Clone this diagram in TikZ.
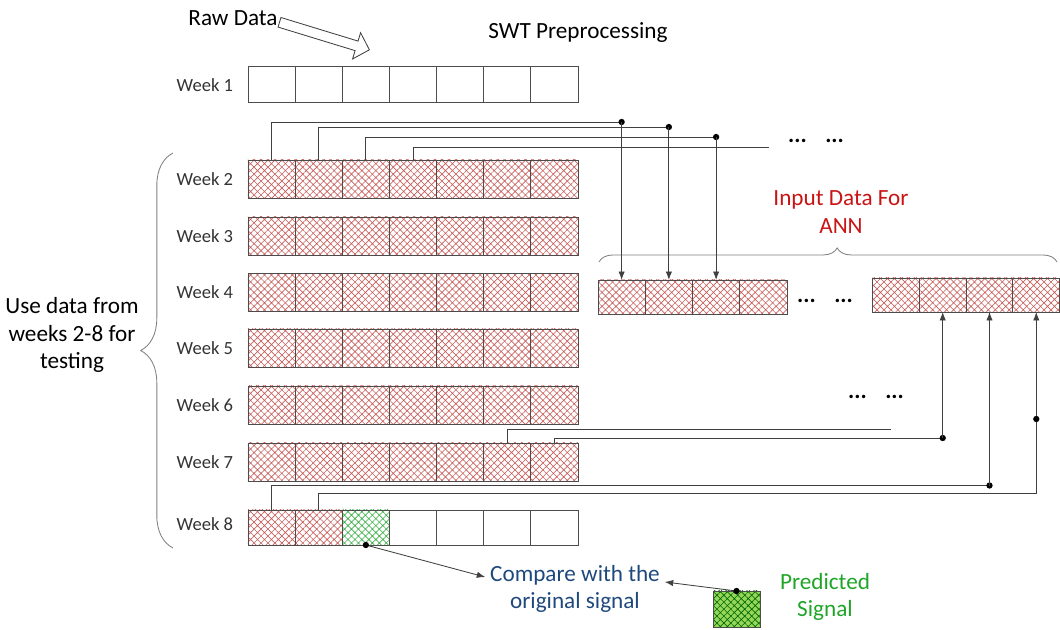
\documentclass[tikz,border=0pt]{standalone}
\usepackage{fontspec}
\setmainfont{Carlito}
\usepackage{xcolor}
\usepackage{tikz}
\usetikzlibrary{positioning,arrows.meta,patterns.meta,decorations.pathreplacing}

\definecolor{hatchred}{RGB}{200,95,92}
\definecolor{hatchgreen}{RGB}{60,175,70}
\definecolor{predfill}{RGB}{150,215,90}
\definecolor{annred}{RGB}{200,20,20}
\definecolor{cmpblue}{RGB}{31,73,125}
\definecolor{predtext}{RGB}{30,165,40}

\begin{document}
\begin{tikzpicture}[x=0.025cm,y=-0.025cm,>={Latex[length=6pt,width=4.5pt]},
  every node/.style={font=\fontsize{16.5}{19.5}\selectfont},
  cell/.style={draw=black!70,line width=0.6pt,minimum width=1.1785cm,
    minimum height=0.95cm,inner sep=0pt,outer sep=0pt},
  plaincell/.style={cell,fill=white},
  redcell/.style={cell,pattern={Hatch[angle=45,distance=3.5pt,line width=0.45pt]},
    pattern color=hatchred},
  greencell/.style={cell,pattern={Hatch[angle=45,distance=3.5pt,line width=0.45pt]},
    pattern color=hatchgreen},
  predcell/.style={cell,preaction={fill=predfill},
    pattern={Hatch[angle=45,distance=3.5pt,line width=0.45pt]},pattern color=green!40!black},
  weeklbl/.style={anchor=east,font=\fontsize{13.2}{15}\selectfont,text=black!80},
  wire/.style={black!75,line width=0.6pt},
  tap/.style={circle,fill=black,inner sep=0pt,minimum size=4.5pt},
  dotsgap/.style={font=\bfseries\fontsize{16.5}{19.5}\selectfont}]
\useasboundingbox (0,0) rectangle (1060,630);

% titles
\node (raw) at (233,18) {Raw Data};
\node (swt) at (578,33) {SWT Preprocessing};
\draw[black!75,line width=0.6pt,shift={(279.5,22.3)},rotate=-17]
  (0,-5) -- (80.6,-5) -- (80.6,-13.7) -- (94,0) -- (80.6,13.7) -- (80.6,5) -- (0,5) -- cycle;

% week rows
\node[weeklbl] (lw1) at (238,85) {Week 1};
\foreach \c in {1,...,7}
  \node[plaincell,minimum height=0.9cm] (w1\c) at ({248+47.14*(\c-0.5)},84) {};
\foreach \w/\yc in {2/179,3/236,4/292.5,5/348,6/405,7/462}{
  \node[weeklbl] (lw\w) at (238,\yc) {Week \w};
  \foreach \c in {1,...,7}
    \node[redcell] (w\w\c) at ({248+47.14*(\c-0.5)},\yc) {};
}
\node[weeklbl] (lw8) at (238,524) {Week 8};
\foreach \c in {1,2}
  \node[redcell,minimum height=0.875cm] (w8\c) at ({248+47.14*(\c-0.5)},527.5) {};
\node[greencell,minimum height=0.875cm] (w83) at ({248+47.14*2.5},527.5) {};
\foreach \c in {4,...,7}
  \node[plaincell,minimum height=0.875cm] (w8\c) at ({248+47.14*(\c-0.5)},527.5) {};

\draw[gray,line width=0.6pt,decorate,decoration={brace,amplitude=23pt}]
  (173,548) -- (173,153);
\node[align=center] (use) at (72,335) {Use data from\\weeks 2-8 for\\testing};

% ANN input rows
\foreach \c in {1,...,4}
  \node[redcell,minimum width=1.181cm,minimum height=0.85cm] (a\c) at ({598+47.25*(\c-0.5)},297) {};
\foreach \c in {1,...,4}
  \node[redcell,minimum width=1.17cm,minimum height=0.85cm] (b\c) at ({872.5+46.8*(\c-0.5)},295) {};
\node[dotsgap] (dotsB) at (825,301) {...\hspace{0.8em}...};
\draw[gray,line width=0.6pt,decorate,decoration={brace,amplitude=10pt,aspect=0.52}]
  (599,262) -- (1057,262);
\node[text=annred,align=center] (ann) at (841,212) {Input Data For\\ANN};

% week 2 -> first inputs
\coordinate (t1) at (a1 |- 0,122);
\coordinate (t2) at (a2 |- 0,127);
\coordinate (t3) at (a3 |- 0,137);
\coordinate (e4) at (769,147);
\draw[wire] (w21.north) |- (t1) node[tap] {};
\draw[wire] (w22.north) |- (t2) node[tap] {};
\draw[wire] (w23.north) |- (t3) node[tap] {};
\draw[wire] (w24.north) |- (e4);
\draw[wire,->] (t1) -- (a1.north);
\draw[wire,->] (t2) -- (a2.north);
\draw[wire,->] (t3) -- (a3.north);
\node[dotsgap] (dotsA) at (816,141) {...\hspace{0.8em}...};

% weeks 7 and 8 -> last inputs
\coordinate (e6) at (891,429);
\coordinate (t5) at (b2 |- 0,438);
\coordinate (t6) at (b3 |- 0,485.5);
\coordinate (t7) at (b4 |- 0,493);
\coordinate (t8) at (b4 |- 0,419);
\draw[wire] (w76.north) |- (e6);
\draw[wire] (w77.north) |- (t5) node[tap] {};
\draw[wire] (w81.north) |- (t6) node[tap] {};
\draw[wire,->] (t5) -- (b2.south);
\draw[wire,->] (t6) -- (b3.south);
\draw[wire,->] (w82.north) |- (t7) -- (b4.south);
\node[tap] at (t8) {};
\node[dotsgap] (dotsC) at (876,397) {...\hspace{0.8em}...};

% comparison
\node[text=cmpblue,align=center] (cmp) at (575,589) {Compare with the\\original signal};
\node[predcell,minimum width=1.175cm,minimum height=0.9cm] (pred) at (736.5,609) {};
\node[text=predtext,align=center] (predlbl) at (825,597) {Predicted\\Signal};
\draw[wire,->] (w83.south) node[tap] {} -- ([yshift=8.5pt]cmp.west);
\draw[wire,->] (pred.north) node[tap] {} -- ([yshift=5pt]cmp.east);
\end{tikzpicture}
\end{document}
